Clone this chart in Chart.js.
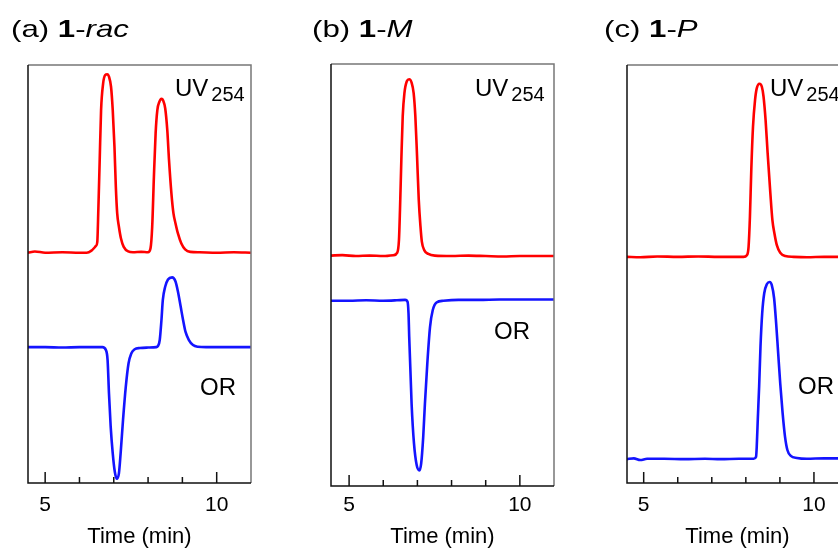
<!DOCTYPE html>
<html>
<head>
<meta charset="utf-8">
<script src="https://cdn.jsdelivr.net/npm/chart.js@4.4.1/dist/chart.umd.min.js"></script>
<style>
  body { margin: 0; width: 838px; height: 550px; overflow: hidden; background: #fff;
         font-family: 'Liberation Sans', Arial, sans-serif; color: #000; }
  .panel { position: absolute; top: 0; height: 550px; }
  .lbl { position: absolute; font-size: 24px; line-height: 1; white-space: nowrap; }
  .title { transform: scaleX(1.3); transform-origin: left top; }
  .sub { font-size: 20px; position: relative; top: 5px; margin-left: 3px; }
</style>
</head>
<body>
<div class="panel" style="left:0;width:270px"><canvas id="chart-rac"></canvas></div>
<div class="panel" style="left:300px;width:280px"><canvas id="chart-m"></canvas></div>
<div class="panel" style="left:600px;width:260px"><canvas id="chart-p"></canvas></div>

<div class="lbl title" style="left:11px;top:17px">(a) <b>1</b>-<i>rac</i></div>
<div class="lbl title" style="left:312px;top:17px">(b) <b>1</b>-<i>M</i></div>
<div class="lbl title" style="left:604px;top:17px">(c) <b>1</b>-<i>P</i></div>

<div class="lbl" style="left:175px;top:76px">UV<span class="sub">254</span></div>
<div class="lbl" style="left:475px;top:76px">UV<span class="sub">254</span></div>
<div class="lbl" style="left:770px;top:76px">UV<span class="sub">254</span></div>

<div class="lbl" style="left:200px;top:375px">OR</div>
<div class="lbl" style="left:494px;top:319px">OR</div>
<div class="lbl" style="left:798px;top:374px">OR</div>

<script>
// (a) 1-rac : UV254
const tRacUV = [4.5, 4.7, 5.0, 5.5, 6.0, 6.21, 6.35, 6.48, 6.52, 6.55, 6.59, 6.63, 6.69, 6.75, 6.81, 6.86, 6.92, 6.97, 7.02, 7.06,
    7.10, 7.15, 7.21, 7.29, 7.42, 7.56, 7.8, 8.00, 8.07, 8.12, 8.17, 8.22, 8.27, 8.33, 8.39, 8.44, 8.50, 8.56, 8.61, 8.68,
    8.74, 8.80, 8.87, 8.97, 9.08, 9.23, 9.50, 10.0, 10.5, 11.0];
const uvRac = [55.1, 55.4, 55.1, 55.2, 55.1, 55.1, 55.6, 56.7, 57.7, 65.3, 77.3, 89.2, 95.6, 97.6, 97.8, 97.2, 94.8, 89.2, 80.5, 70.9,
    64.5, 61.3, 58.5, 56.5, 55.4, 55.2, 55.3, 55.2, 56.1, 61.3, 73.3, 83.7, 89.2, 91.2, 91.9, 91.5, 89.6, 84.4, 77.3, 69.3,
    64.5, 62.1, 59.7, 57.3, 55.9, 55.3, 55.2, 55.1, 55.2, 55.1];

// (a) 1-rac : OR
const tRacOR = [4.5, 5.0, 5.5, 6.0, 6.4, 6.67, 6.77, 6.82, 6.86, 6.91, 6.97, 7.03, 7.09, 7.15, 7.20, 7.27, 7.35, 7.43, 7.51, 7.61,
    7.76, 8.0, 8.24, 8.29, 8.34, 8.39, 8.43, 8.50, 8.58, 8.70, 8.80, 8.87, 8.95, 9.02, 9.09, 9.19, 9.31, 9.45, 9.69, 10.0,
    10.5, 11.0];
const orRac = [32.5, 32.5, 32.4, 32.5, 32.5, 32.5, 31.8, 29.4, 21.5, 13.5, 7.1, 2.7, 1.0, 2.3, 7.1, 15.1, 23.0, 28.6, 31.0, 32.0,
    32.3, 32.4, 32.5, 32.8, 34.2, 39.0, 43.8, 47.0, 48.7, 49.2, 48.2, 45.8, 42.2, 39.0, 36.2, 34.2, 33.0, 32.6, 32.5, 32.5,
    32.5, 32.5];

// (b) 1-M : UV254
const tMUV = [4.47, 4.8, 5.2, 5.6, 6.0, 6.30, 6.41, 6.46, 6.49, 6.53, 6.57, 6.62, 6.69, 6.76, 6.83, 6.89, 6.94, 6.99, 7.04, 7.09,
    7.13, 7.20, 7.32, 7.51, 8.0, 8.5, 9.0, 9.5, 10.0, 10.5, 11.0];
const uvM = [54.6, 54.7, 54.5, 54.6, 54.5, 54.7, 55.3, 58.3, 65.4, 77.3, 87.6, 93.1, 95.9, 96.4, 95.6, 93.1, 87.6, 78.1, 67.8, 61.5,
    57.9, 55.9, 55.0, 54.6, 54.5, 54.6, 54.5, 54.4, 54.5, 54.5, 54.5];

// (b) 1-M : OR
const tMOR = [4.47, 5.0, 5.5, 6.0, 6.4, 6.64, 6.71, 6.74, 6.76, 6.83, 6.90, 6.98, 7.06, 7.11, 7.17, 7.22, 7.29, 7.37, 7.45, 7.56,
    7.76, 8.2, 8.8, 9.4, 10.0, 10.5, 11.0];
const orM = [43.9, 43.9, 44.0, 43.9, 44.0, 44.1, 43.7, 40.9, 35.4, 19.5, 10.1, 4.9, 3.7, 5.3, 11.6, 19.5, 29.0, 37.7, 41.7, 43.5,
    43.9, 44.1, 44.1, 44.2, 44.2, 44.2, 44.2];

// (c) 1-P : UV254
const tPUV = [4.5, 4.9, 5.4, 6.0, 6.6, 7.2, 7.93, 8.03, 8.08, 8.12, 8.16, 8.21, 8.27, 8.32, 8.40, 8.47, 8.52, 8.58, 8.64, 8.72,
    8.78, 8.84, 8.91, 9.01, 9.16, 9.40, 9.8, 10.3, 11.0];
const uvP = [54.1, 54.0, 54.2, 54.1, 54.2, 54.1, 54.1, 54.5, 56.5, 63.7, 74.9, 85.2, 91.6, 94.4, 95.5, 94.8, 92.4, 86.8, 78.9, 69.3,
    62.9, 59.7, 56.9, 55.1, 54.3, 54.1, 54.0, 54.1, 54.1];

// (c) 1-P : OR
const tPOR = [4.5, 4.71, 4.9, 5.1, 5.6, 6.2, 6.8, 7.26, 7.8, 8.23, 8.30, 8.32, 8.35, 8.39, 8.43, 8.48, 8.54, 8.62, 8.70, 8.76,
    8.83, 8.89, 8.95, 9.01, 9.08, 9.15, 9.22, 9.32, 9.50, 9.79, 10.3, 11.0];
const orP = [5.7, 5.9, 5.5, 5.8, 5.8, 5.7, 5.8, 5.7, 5.8, 5.8, 6.3, 8.7, 15.1, 23.0, 32.6, 40.6, 45.4, 47.6, 48.1, 47.4,
    44.2, 38.2, 31.0, 23.8, 16.7, 11.1, 7.9, 6.5, 6.0, 5.8, 5.9, 5.9];

// деления оси X: все минуты, подписаны только 5 и 10
const tickValues = [5, 6, 7, 8, 9, 10];
const labeledTicks = [5, 10];

const FONT = "'Liberation Sans', Arial, sans-serif";

function pairs(xs, ys) {
    return xs.map((x, i) => ({ x: x, y: ys[i] }));
}

// рамка графика и короткие засечки внутрь
const frameAndTicks = {
    id: 'frameAndTicks',
    afterDatasetsDraw(chart) {
        const { ctx, chartArea: { left, right, top, bottom }, scales: { x } } = chart;
        ctx.save();
        ctx.lineWidth = 1.5;
        ctx.strokeStyle = '#777';
        ctx.beginPath();
        ctx.moveTo(left, top);
        ctx.lineTo(right, top);
        ctx.lineTo(right, bottom);
        ctx.stroke();
        ctx.strokeStyle = '#111';
        ctx.beginPath();
        ctx.moveTo(left, top);
        ctx.lineTo(left, bottom);
        ctx.lineTo(right, bottom);
        ctx.stroke();
        x.ticks.forEach(t => {
            const px = x.getPixelForValue(t.value);
            const len = labeledTicks.includes(t.value) ? 11 : 6;
            ctx.beginPath();
            ctx.moveTo(px, bottom);
            ctx.lineTo(px, bottom - len);
            ctx.stroke();
        });
        ctx.restore();
    }
};

function makeChart(id, p) {
    return new Chart(document.getElementById(id), {
        type: 'line',
        data: {
            datasets: [{
                data: pairs(p.uvT, p.uv),
                borderColor: 'rgb(255, 0, 0)',
                borderWidth: 2.6,
                pointRadius: 0,
                cubicInterpolationMode: 'monotone'
            }, {
                data: pairs(p.orT, p.or),
                borderColor: 'rgb(20, 20, 255)',
                borderWidth: 2.6,
                pointRadius: 0,
                cubicInterpolationMode: 'monotone'
            }]
        },
        options: {
            responsive: true,
            maintainAspectRatio: false,
            animation: false,
            layout: { padding: p.padding },
            plugins: { legend: { display: false }, tooltip: { enabled: false } },
            scales: {
                x: {
                    type: 'linear',
                    min: p.xMin,
                    max: 11,
                    afterBuildTicks(scale) { scale.ticks = tickValues.map(v => ({ value: v })); },
                    afterFit(scale) { scale.height = p.axisHeight; },
                    grid: { display: false, drawTicks: false },
                    border: { display: false },
                    ticks: {
                        autoSkip: false,
                        maxRotation: 0,
                        padding: p.tickPad,
                        color: '#000',
                        font: { family: FONT, size: 21 },
                        callback: v => labeledTicks.includes(v) ? String(v) : ''
                    },
                    title: {
                        display: true,
                        text: 'Time (min)',
                        color: '#000',
                        font: { family: FONT, size: 22 },
                        padding: { top: 0, bottom: 0 }
                    }
                },
                y: { display: false, min: 0, max: 100 }
            }
        },
        plugins: [frameAndTicks]
    });
}

makeChart('chart-rac', {
    uvT: tRacUV, uv: uvRac, orT: tRacOR, or: orRac,
    xMin: 4.5, padding: { left: 28, right: 19, top: 65, bottom: 0 }, axisHeight: 67, tickPad: 10
});
makeChart('chart-m', {
    uvT: tMUV, uv: uvM, orT: tMOR, or: orM,
    xMin: 4.47, padding: { left: 31, right: 26, top: 64, bottom: 0 }, axisHeight: 64, tickPad: 7
});
makeChart('chart-p', {
    uvT: tPUV, uv: uvP, orT: tPOR, or: orP,
    xMin: 4.51, padding: { left: 27, right: 12, top: 65, bottom: 0 }, axisHeight: 67, tickPad: 10
});
</script>
</body>
</html>
